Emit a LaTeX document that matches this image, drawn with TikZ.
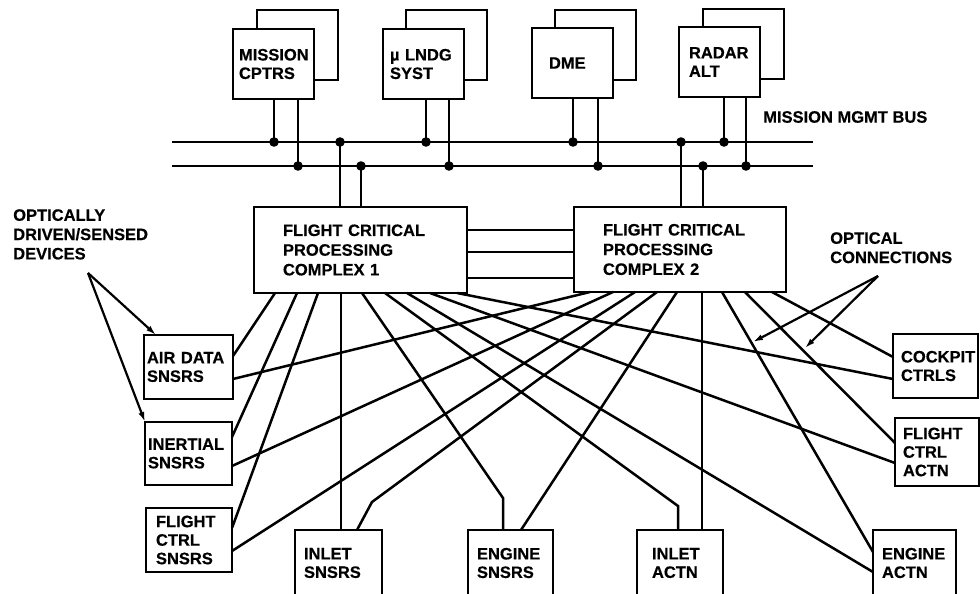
\documentclass[tikz,border=0pt]{standalone}
\usepackage{fontspec}
\setmainfont{Liberation Sans}[BoldFeatures={FakeBold=0.4}]
\usetikzlibrary{arrows.meta,calc}
\begin{document}
\begin{tikzpicture}[x=1pt,y=-1pt,line width=2.5pt,
  box/.style={draw, fill=white, anchor=north west, outer sep=0pt, inner ysep=0pt,
    align=left, font=\bfseries\fontsize{16.5}{18.5}\selectfont},
  bigbox/.style={box, font=\bfseries\fontsize{16.5}{19.7}\selectfont},
  backbox/.style={draw, fill=white, anchor=north west, outer sep=0pt, inner sep=0pt,
    minimum width=81pt, minimum height=70pt},
  topbox/.style={box, minimum width=81pt, minimum height=70pt},
  lbl/.style={inner sep=0pt, align=left, font=\bfseries\fontsize{16.5}{19.3}\selectfont},
  arr/.style={-{Latex[length=10pt,width=6pt]}, line width=2.2pt},
  dot/.style={fill=black}]
\useasboundingbox (0,0) rectangle (980,594);

% ---- top boxes (back copies first)
\node[backbox] (mcb) at (257,10) {};
\node[topbox, text width=69pt, inner xsep=6pt] (mc) at (233,29) {MISSION\\CPTRS};
\node[backbox] (mlb) at (406,10) {};
\node[topbox, text width=67pt, inner xsep=7pt] (ml) at (383,29) {µ LNDG\\SYST};
\node[backbox] (dmeb) at (555,10) {};
\node[topbox, text width=47pt, inner xsep=17pt] (dme) at (532,28) {DME};
\node[backbox] (rab) at (703,9) {};
\node[topbox, text width=61pt, inner xsep=10pt] (ra) at (679,27) {RADAR\\ALT};

\node[lbl, anchor=west] (mmb) at (762,117) {MISSION MGMT BUS};

% ---- bus
\coordinate (b1l) at (172,142); \coordinate (b1r) at (813,142);
\coordinate (b2l) at (172,166); \coordinate (b2r) at (813,166);
\draw (b1l) -- (b1r);
\draw (b2l) -- (b2r);

% ---- processing complexes
\node[bigbox, minimum width=213pt, minimum height=86pt, text width=155pt, inner xsep=29pt] (fc1) at (254,207) {FLIGHT CRITICAL\\PROCESSING\\COMPLEX 1};
\node[bigbox, minimum width=212pt, minimum height=85pt, text width=154pt, inner xsep=29pt] (fc2) at (574,207) {FLIGHT CRITICAL\\PROCESSING\\COMPLEX 2};

% drops from top boxes to bus
\foreach \n/\xa/\xb in {mc/274/298, ml/426/449, dme/573/598, ra/724/746}{
  \draw (\n.south -| \xa,0) -- (\xa,142);
  \draw (\n.south -| \xb,0) -- (\xb,166);
  \fill[dot] (\xa,142) circle (4.8pt);
  \fill[dot] (\xb,166) circle (4.8pt);
}
% risers from complexes to bus
\foreach \n/\xa/\xb in {fc1/340/361, fc2/681/703}{
  \draw (\n.north -| \xa,0) -- (\xa,142);
  \draw (\n.north -| \xb,0) -- (\xb,166);
  \fill[dot] (\xa,142) circle (4.8pt);
  \fill[dot] (\xb,166) circle (4.8pt);
}
% cross links
\foreach \yy in {230,252,278}{
  \draw (fc1.east |- 0,\yy) -- (fc2.west |- 0,\yy);
}

% ---- devices
\node[box, minimum width=89pt, minimum height=64pt, text width=83pt, inner xsep=3pt] (airdata) at (144,335) {AIR DATA\\SNSRS};
\node[box, minimum width=87pt, minimum height=63pt, text width=81pt, inner xsep=3pt] (inertial) at (145,422) {INERTIAL\\SNSRS};
\node[box, minimum width=86pt, minimum height=64pt, text width=66pt, inner xsep=10pt] (fcs) at (146,508) {FLIGHT\\CTRL\\SNSRS};
\node[box, minimum width=87pt, minimum height=66pt, text width=69pt, inner xsep=9pt] (inletsn) at (295,530) {INLET\\SNSRS};
\node[box, minimum width=85pt, minimum height=66pt, text width=67pt, inner xsep=9pt] (enginesn) at (468,530) {ENGINE\\SNSRS};
\node[box, minimum width=86pt, minimum height=66pt, text width=56pt, inner xsep=15pt] (inletac) at (637,530) {INLET\\ACTN};
\node[box, minimum width=83pt, minimum height=66pt, text width=65pt, inner xsep=9pt] (engineac) at (873,530) {ENGINE\\ACTN};
\node[box, minimum width=84pt, minimum height=68pt, text width=68pt, inner xsep=8pt] (fca) at (895,418) {FLIGHT\\CTRL\\ACTN};
\node[box, minimum width=85pt, minimum height=64pt, text width=69pt, inner xsep=8pt] (cockpit) at (893,334) {COCKPIT\\CTRLS};

% ---- links from complex 1
\draw (fc1.south -| 275,0) -- (airdata.east |- 0,356);
\draw (fc1.south -| 297,0) -- (inertial.east |- 0,437);
\draw (fc1.south -| 318,0) -- (fcs.east |- 0,528);
\draw (fc1.south -| 341,0) -- (inletsn.north -| 341,0);
\draw (fc1.south -| 362,0) -- (503,498) -- (enginesn.north -| 503,0);
\draw (fc1.south -| 385,0) -- (678,506) -- (inletac.north -| 678,0);
\draw (fc1.south -| 407,0) -- (engineac.west |- 0,572);
\draw (fc1.south -| 430,0) -- (fca.west |- 0,463);
\draw (fc1.south -| 457,0) -- (cockpit.west |- 0,379);
% ---- links from complex 2
\draw (fc2.south -| 590,0) -- (airdata.east |- 0,379);
\draw (fc2.south -| 613,0) -- (inertial.east |- 0,466);
\draw (fc2.south -| 635,0) -- (fcs.east |- 0,551);
\draw (fc2.south -| 657,0) -- (372,502) -- (inletsn.north -| 357,0);
\draw (fc2.south -| 677,0) -- (enginesn.north -| 521,0);
\draw (fc2.south -| 702,0) -- (inletac.north -| 702,0);
\draw (fc2.south -| 722,0) -- (engineac.west |- 0,552);
\draw (fc2.south -| 745,0) -- (fca.west |- 0,443);
\draw (fc2.south -| 772,0) -- (cockpit.west |- 0,357);

% ---- annotations
\node[lbl, anchor=north west] (odd) at (12,208) {OPTICALLY\\DRIVEN/SENSED\\DEVICES};
\coordinate (oddapex) at (88,273);
\draw[arr] (oddapex) -- (airdata.north -| 156,0);
\draw[arr] (oddapex) -- (inertial.north west);

\node[lbl, anchor=north west] (oc) at (829,231) {OPTICAL\\CONNECTIONS};
\coordinate (ocapex) at (878,276);
\coordinate (oct1) at (753,342);
\coordinate (oct2) at (805,348);
\draw[arr] (ocapex) -- (oct1);
\draw[arr] (ocapex) -- (oct2);
\end{tikzpicture}
\end{document}
